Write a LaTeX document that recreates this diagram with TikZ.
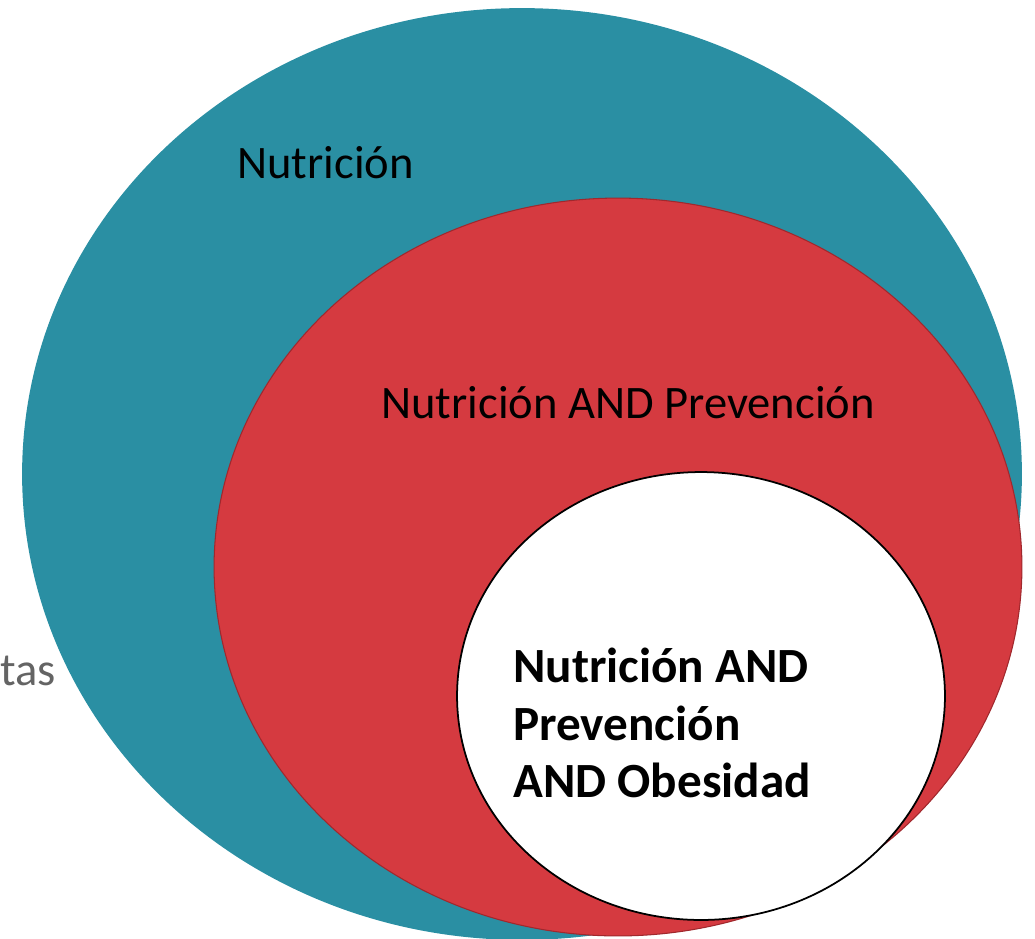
\documentclass[tikz,border=0pt]{standalone}
\usepackage{fontspec}
\setmainfont{Carlito}
\usetikzlibrary{shapes.geometric}
\definecolor{tealset}{RGB}{42,143,163}
\definecolor{redset}{RGB}{213,58,64}
\definecolor{redline}{RGB}{160,40,45}
\definecolor{grayword}{RGB}{100,100,100}

\begin{document}
\begin{tikzpicture}
[x=0.02cm,y=-0.02cm,
set/.style={ellipse,inner sep=0pt,outer sep=0pt},
setlabel/.style={anchor=base west,inner sep=0pt,font=\fontsize{26.5}{31}\selectfont}]
\useasboundingbox (0,0) rectangle (1035,938);
\node[set,fill=tealset,minimum width=20cm,minimum height=18.64cm](nut) at (522,474){};
\node[set,fill=redset,draw=redline,line width=0.6pt,minimum width=16.16cm,minimum height=14.76cm](prev) at (618,567){};
\node[set,fill=white,draw=black,line width=1pt,minimum width=9.76cm,minimum height=8.96cm](obes) at (701,696){};
\node[setlabel](nutlabel) at (237,178){Nutrición};
\node[setlabel](prevlabel) at (381,418){Nutrición AND Prevención};
\node[anchor=north west,inner sep=0pt,align=left,font=\fontsize{28}{32.6}\selectfont\bfseries](obeslabel) at (513,648){Nutrición AND\\Prevención\\AND Obesidad};
\node[setlabel,text=grayword](taslabel) at (0,685){tas};
\end{tikzpicture}
\end{document}
